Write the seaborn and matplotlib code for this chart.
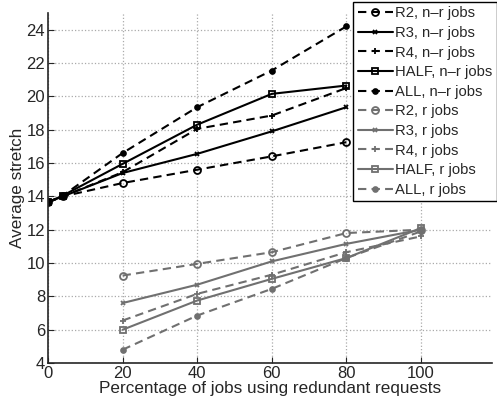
import numpy as np
import pandas as pd
import seaborn as sns
import matplotlib
matplotlib.use('Agg')
import matplotlib.pyplot as plt

# x positions
x_nr = [0, 4, 20, 40, 60, 80]
x_r = [20, 40, 60, 80, 100]

# n-r jobs
r2_nr = [13.65, 14.0, 14.8, 15.6, 16.4, 17.25]
r3_nr = [13.65, 14.0, 15.4, 16.55, 17.9, 19.35]
r4_nr = [13.65, 14.0, 15.45, 18.05, 18.85, 20.5]
half_nr = [13.65, 14.05, 15.95, 18.3, 20.15, 20.65]
all_nr = [13.65, 14.05, 16.6, 19.35, 21.55, 24.2]

# r jobs
r2_r = [9.25, 9.95, 10.65, 11.8, 12.0]
r3_r = [7.6, 8.7, 10.1, 11.15, 12.0]
r4_r = [6.55, 8.15, 9.3, 10.65, 11.6]
half_r = [6.0, 7.75, 9.05, 10.3, 12.1]
all_r = [4.8, 6.85, 8.45, 10.3, 11.9]

sns.set_style('ticks')
plt.rcParams['font.family'] = ['Liberation Sans', 'DejaVu Sans']

fig = plt.figure(figsize=(4.97, 4.07), dpi=100)
ax = fig.add_axes([0.0966, 0.108, 0.893, 0.86])

black = '#000000'
gray = '#707070'

series = [
    ('R2, n–r jobs', x_nr, r2_nr, black, '--', 'o', 'none', 5),
    ('R3, n–r jobs', x_nr, r3_nr, black, '-', 'x', black, 3.5),
    ('R4, n–r jobs', x_nr, r4_nr, black, '--', '+', black, 5),
    ('HALF, n–r jobs', x_nr, half_nr, black, '-', 's', 'none', 5),
    ('ALL, n–r jobs', x_nr, all_nr, black, '--', 'o', black, 3.5),
    ('R2, r jobs', x_r, r2_r, gray, '--', 'o', 'none', 5),
    ('R3, r jobs', x_r, r3_r, gray, '-', 'x', gray, 3.5),
    ('R4, r jobs', x_r, r4_r, gray, '--', '+', gray, 5),
    ('HALF, r jobs', x_r, half_r, gray, '-', 's', 'none', 5),
    ('ALL, r jobs', x_r, all_r, gray, '--', 'o', gray, 3.5),
]

for label, xs, ys, col, ls, mk, mfc, ms in series:
    sns.lineplot(x=xs, y=ys, ax=ax, color=col, linestyle=ls, marker=mk,
                 markerfacecolor=mfc, markeredgecolor=col, markersize=ms,
                 markeredgewidth=1.3, linewidth=1.5, label=label)
    if ls == '--':
        ax.lines[-1].set_dashes((4, 2.5))

ax.set_xlim(0, 119)
ax.set_ylim(4, 25)
ax.set_xticks([0, 20, 40, 60, 80, 100])
ax.set_yticks(np.arange(4, 25, 2))
ax.grid(True, linestyle=':', color='#aaaaaa', linewidth=0.9)
for s in ['top', 'right']:
    ax.spines[s].set_visible(False)
ax.spines['left'].set_linewidth(1.2)
ax.spines['bottom'].set_linewidth(1.2)
ax.tick_params(direction='in', labelsize=12, length=4, pad=2)
ax.set_xlabel('Percentage of jobs using redundant requests', fontsize=12.3, labelpad=0)
ax.set_ylabel('Average stretch', fontsize=12.3, labelpad=1)

leg = ax.legend(loc='upper right', bbox_to_anchor=(1.0, 1 - 2 / 407),
                bbox_transform=fig.transFigure, fontsize=10.6, frameon=True,
                fancybox=False, framealpha=1, edgecolor='black',
                labelspacing=0.38, handlelength=2.4, handletextpad=0.15,
                borderpad=0.3, borderaxespad=0)
leg.get_frame().set_linewidth(1.0)

fig.savefig('out.png', dpi=100)
